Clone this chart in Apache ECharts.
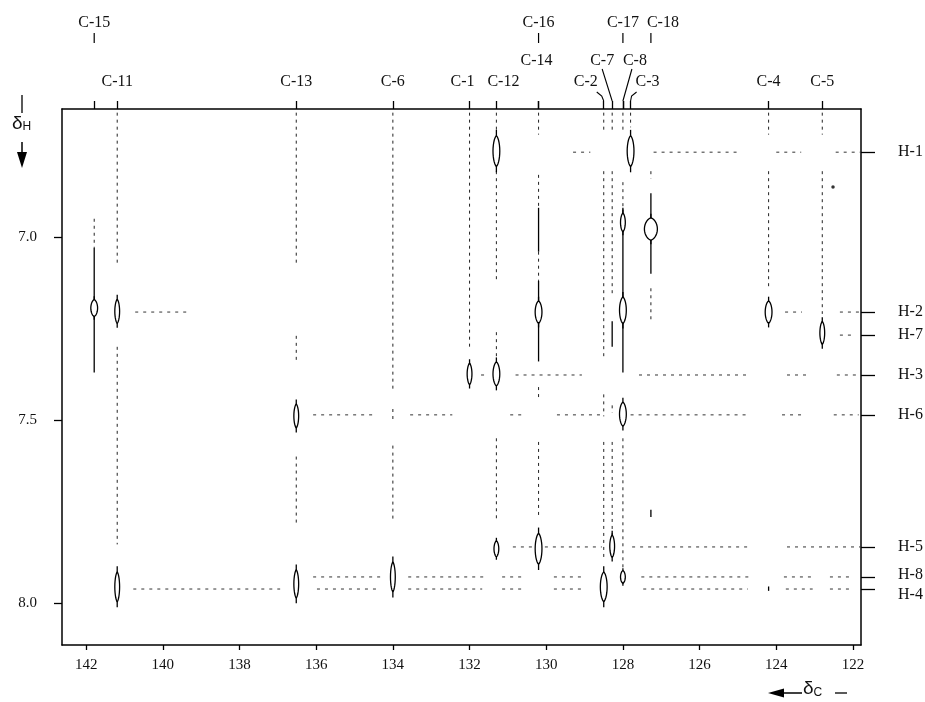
<!DOCTYPE html>
<html>
<head>
<meta charset="utf-8">
<script src="https://cdn.jsdelivr.net/npm/echarts@6/dist/echarts.min.js"></script>
<style>
  html, body { margin: 0; background: #fff; }
  #chart { width: 925px; height: 702px; }
</style>
</head>
<body>
<div id="chart"></div>
<script>
// ---- axis ranges (ppm) ----
const cRange = [121.79, 142.63];
const hRange = [6.65, 8.115];
const cTicks = [122, 124, 126, 128, 130, 132, 134, 136, 138, 140, 142];
const hTicks = [7.0, 7.5, 8.0];

// ---- carbon assignments (top) ----
const carbonNames  = ['C-15', 'C-11', 'C-13', 'C-6', 'C-1', 'C-12', 'C-14', 'C-16', 'C-2', 'C-7', 'C-8', 'C-17', 'C-3', 'C-18', 'C-4', 'C-5'];
const carbonShifts = [141.79, 141.19, 136.52, 134.0, 132.0, 131.3, 130.2, 130.2, 128.5, 128.28, 128.0, 128.0, 127.8, 127.27, 124.2, 122.8];
// carbons that only carry a label (no tick on the frame)
const labelOnly = ['C-18'];

// ---- proton assignments (right) ----
const protonNames  = ['H-1', 'H-2', 'H-7', 'H-3', 'H-6', 'H-5', 'H-8', 'H-4'];
const protonShifts = [6.768, 7.205, 7.268, 7.377, 7.486, 7.847, 7.929, 7.962];

// ---- cross peaks: [δC, δH, half spread in δH, contour level] ----
const peaks = [
  [141.79, 7.194, 0.032, 2],
  [141.19, 7.203, 0.045, 1],
  [141.19, 7.956, 0.056, 1],
  [136.52, 7.489, 0.045, 1],
  [136.52, 7.948, 0.053, 1],
  [134.0, 7.929, 0.056, 1],
  [132.0, 7.374, 0.040, 1],
  [131.3, 6.765, 0.058, 2],
  [131.3, 7.374, 0.045, 2],
  [131.3, 7.852, 0.030, 1],
  [130.2, 7.205, 0.042, 2],
  [130.2, 7.852, 0.058, 2],
  [128.5, 7.956, 0.056, 2],
  [128.28, 7.845, 0.042, 1],
  [128.0, 6.960, 0.035, 1],
  [128.0, 7.200, 0.050, 2],
  [128.0, 7.484, 0.045, 2],
  [128.0, 7.929, 0.024, 1],
  [127.8, 6.765, 0.058, 2],
  [127.27, 6.978, 0.042, 3],
  [124.2, 7.205, 0.042, 2],
  [122.8, 7.262, 0.043, 1]
];

// ---- solid streaks along δH: [δC, from δH, to δH] ----
const streaks = [
  [141.79, 7.03, 7.37],
  [130.2, 6.92, 7.04],
  [130.2, 7.12, 7.34],
  [128.28, 7.23, 7.30],
  [128.0, 6.92, 7.37],
  [127.27, 6.88, 7.10],
  [127.27, 7.745, 7.765],
  [124.2, 7.955, 7.967]
];
const spots = [[122.52, 6.863]];

// ---- dashed guides down from carbons: [δC, from δH, to δH] ----
const vDashes = [
  [141.79, 6.95, 7.03],
  [141.19, 6.66, 7.08], [141.19, 7.30, 7.84],
  [136.52, 6.66, 7.08], [136.52, 7.27, 7.34], [136.52, 7.60, 7.79],
  [134.0, 6.66, 7.42], [134.0, 7.47, 7.50], [134.0, 7.57, 7.78],
  [132.0, 6.66, 7.30],
  [131.3, 6.66, 6.71], [131.3, 6.82, 7.12], [131.3, 7.26, 7.33], [131.3, 7.55, 7.77],
  [130.2, 6.66, 6.72], [130.2, 6.83, 6.92], [130.2, 7.04, 7.12], [130.2, 7.41, 7.44], [130.2, 7.56, 7.76],
  [128.5, 6.66, 6.71], [128.5, 6.82, 7.33], [128.5, 7.43, 7.49], [128.5, 7.56, 7.88],
  [128.28, 6.66, 6.71], [128.28, 6.82, 7.16], [128.28, 7.46, 7.48], [128.28, 7.56, 7.82],
  [128.0, 6.66, 6.71], [128.0, 6.85, 6.92], [128.0, 7.55, 7.92],
  [127.8, 6.66, 6.70],
  [127.27, 6.82, 6.84], [127.27, 7.14, 7.23],
  [124.2, 6.66, 6.72], [124.2, 6.82, 7.14],
  [122.8, 6.66, 6.72], [122.8, 6.82, 7.21]
];

// ---- dashed guides from protons: [δH, from δC, to δC] ----
const hDashes = [
  [6.768, 129.3, 128.85], [6.768, 127.2, 125.0], [6.768, 124.0, 123.35], [6.768, 122.45, 121.79],
  [7.205, 140.72, 139.36], [7.205, 123.77, 123.33], [7.205, 122.34, 121.79],
  [7.268, 122.34, 121.95],
  [7.377, 131.7, 131.55], [7.377, 130.8, 129.07], [7.377, 127.58, 124.74], [7.377, 123.72, 123.12], [7.377, 122.42, 121.79],
  [7.486, 136.08, 134.46], [7.486, 133.55, 132.45], [7.486, 130.94, 130.6], [7.486, 129.72, 128.55],
  [7.486, 127.8, 124.76], [7.486, 123.85, 123.28], [7.486, 122.5, 121.85],
  [7.847, 130.87, 128.55], [7.847, 127.76, 124.7], [7.847, 123.72, 121.79],
  [7.929, 136.08, 134.33], [7.929, 133.6, 131.54], [7.929, 131.15, 130.6], [7.929, 129.8, 129.04],
  [7.929, 127.52, 124.7], [7.929, 123.8, 123.0], [7.929, 122.6, 122.1],
  [7.962, 140.77, 136.94], [7.962, 135.98, 134.33], [7.962, 133.6, 131.67], [7.962, 131.15, 130.6],
  [7.962, 129.8, 128.99], [7.962, 127.47, 124.74], [7.962, 123.75, 123.05], [7.962, 122.6, 122.1]
];

// label placement above the frame (row 0 = highest)
const labelLayout = {
  'C-15': { row: 0 }, 'C-16': { row: 0 }, 'C-17': { row: 0 }, 'C-18': { row: 0, dx: 12 },
  'C-14': { row: 1, dx: -2 }, 'C-7': { row: 1, dx: -10, link: 'slant' }, 'C-8': { row: 1, dx: 12, link: 'slant' },
  'C-2': { row: 2, dx: -18, link: 'hook' }, 'C-3': { row: 2, dx: 17, link: 'hook' },
  'C-1': { row: 2, dx: -7 }, 'C-12': { row: 2, dx: 7 }
};
const rowY = [23, 61, 82];
// small vertical nudges for crowded proton labels
const protonNudge = { 'H-8': -2, 'H-4': 6 };

const serif = 'Liberation Serif';
const ink = '#111';

const chart = echarts.init(document.getElementById('chart'));

function segRenderer(vertical, color, dash) {
  return function (params, api) {
    const a = vertical ? api.coord([api.value(0), api.value(1)]) : api.coord([api.value(1), api.value(0)]);
    const b = vertical ? api.coord([api.value(0), api.value(2)]) : api.coord([api.value(2), api.value(0)]);
    return {
      type: 'line',
      shape: { x1: a[0], y1: a[1], x2: b[0], y2: b[1] },
      style: { stroke: color, lineWidth: dash ? 1 : 1.3, lineDash: dash || null }
    };
  };
}

function renderPeak(params, api) {
  const c = api.coord([api.value(0), api.value(1)]);
  const t = api.coord([api.value(0), api.value(1) - api.value(2)]);
  const hs = Math.abs(c[1] - t[1]);
  const w = [0, 2.4, 3.4, 6.5][api.value(3)];
  const lh = hs * 0.72;
  const pts = [];
  for (let i = 0; i <= 32; i++) {
    const a = Math.PI * 2 * i / 32;
    const s = Math.sin(a);
    pts.push([c[0] + w * Math.sign(s) * Math.pow(Math.abs(s), 1.3), c[1] - lh * Math.cos(a)]);
  }
  return {
    type: 'group',
    children: [
      { type: 'line', shape: { x1: c[0], y1: c[1] - hs, x2: c[0], y2: c[1] + hs }, style: { stroke: '#000', lineWidth: 1.3 } },
      { type: 'polygon', shape: { points: pts }, style: { fill: '#fff', stroke: '#000', lineWidth: 1.3 } }
    ]
  };
}

const frameLine = { show: true, onZero: false, lineStyle: { color: '#000', width: 1.5 } };
const tickText = { color: ink, fontFamily: serif, fontSize: 15 };

const option = {
  animation: false,
  backgroundColor: '#fff',
  grid: { left: 62, right: 64, top: 109, bottom: 57 },
  xAxis: [
    {
      type: 'value', position: 'bottom', inverse: true, min: cRange[0], max: cRange[1],
      axisLine: frameLine,
      axisTick: { customValues: cTicks, length: 5, lineStyle: { color: '#000', width: 1.3 } },
      axisLabel: Object.assign({ customValues: cTicks, margin: 13 }, tickText),
      splitLine: { show: false }
    },
    {
      type: 'value', position: 'top', inverse: true, min: cRange[0], max: cRange[1],
      axisLine: frameLine,
      axisTick: {
        customValues: carbonShifts.filter((v, i) => !labelOnly.includes(carbonNames[i])),
        length: 8, lineStyle: { color: '#000', width: 1.3 }
      },
      axisLabel: { show: false },
      splitLine: { show: false }
    }
  ],
  yAxis: [
    {
      type: 'value', position: 'left', inverse: true, min: hRange[0], max: hRange[1],
      axisLine: frameLine,
      axisTick: { customValues: hTicks, length: 8, lineStyle: { color: '#000', width: 1.3 } },
      axisLabel: Object.assign({ customValues: hTicks, margin: 25, formatter: v => v.toFixed(1) }, tickText),
      splitLine: { show: false }
    },
    {
      type: 'value', position: 'right', inverse: true, min: hRange[0], max: hRange[1],
      axisLine: frameLine,
      axisTick: { customValues: protonShifts, length: 14, lineStyle: { color: '#000', width: 1.3 } },
      axisLabel: { show: false },
      splitLine: { show: false }
    }
  ],
  series: [
    { type: 'custom', name: 'hguides', data: hDashes, renderItem: segRenderer(false, '#333', [3, 5]), encode: { x: 1, y: 0 }, z: 1 },
    { type: 'custom', name: 'vguides', data: vDashes, renderItem: segRenderer(true, '#222', [3, 4]), encode: { x: 0, y: 1 }, z: 1 },
    { type: 'custom', name: 'streaks', data: streaks, renderItem: segRenderer(true, '#000', null), encode: { x: 0, y: 1 }, z: 2 },
    { type: 'scatter', name: 'spots', data: spots, symbol: 'circle', symbolSize: 3.5, itemStyle: { color: '#000' }, z: 2 },
    { type: 'custom', name: 'peaks', data: peaks, renderItem: renderPeak, encode: { x: 0, y: 1 }, z: 3 }
  ]
};

chart.setOption(option);

const graphics = [];
const toPx = (c, h) => chart.convertToPixel({ gridIndex: 0 }, [c, h]);
const frameTop = toPx(cRange[1], hRange[0])[1];
const frameRight = toPx(cRange[0], hRange[0])[0];

// ---- carbon labels above the frame ----
carbonNames.forEach((name, i) => {
  const lay = labelLayout[name] || { row: 2 };
  const x = toPx(carbonShifts[i], hRange[0])[0];
  const lx = x + (lay.dx || 0);
  const ly = rowY[lay.row];
  graphics.push({
    type: 'text', x: lx, y: ly,
    style: { text: name, fill: ink, font: '16px "' + serif + '"', align: 'center', verticalAlign: 'middle' }
  });
  if (lay.row === 0) {
    graphics.push({ type: 'line', shape: { x1: x, y1: ly + 10, x2: x, y2: ly + 20 }, style: { stroke: '#000', lineWidth: 1.2 } });
  }
  if (lay.link === 'slant') {
    graphics.push({
      type: 'line',
      shape: { x1: lx + (lay.dx < 0 ? 0 : -3), y1: ly + 8, x2: x, y2: frameTop - 8 },
      style: { stroke: '#000', lineWidth: 1.1 }
    });
  }
  if (lay.link === 'hook') {
    const sx = lay.dx < 0 ? lx + 11 : lx - 11;
    const mx = lay.dx < 0 ? x - 2 : x + 1;
    graphics.push({
      type: 'polyline',
      shape: { points: [[sx, ly + 10], [mx, ly + 14], [x, ly + 19]] },
      style: { stroke: '#000', lineWidth: 1.1, fill: null }
    });
  }
});

// ---- proton labels right of the frame ----
protonNames.forEach((name, i) => {
  const y = toPx(cRange[0], protonShifts[i])[1] + (protonNudge[name] || 0);
  graphics.push({
    type: 'text', x: frameRight + 37, y: y,
    style: { text: name, fill: ink, font: '16px "' + serif + '"', align: 'left', verticalAlign: 'middle' }
  });
});

// δH axis name with downward arrow
graphics.push(
  { type: 'line', shape: { x1: 22, y1: 95, x2: 22, y2: 113 }, style: { stroke: '#000', lineWidth: 1.3 } },
  {
    type: 'text', x: 12, y: 133,
    style: {
      text: '{d|δ}{s|H}', verticalAlign: 'bottom',
      rich: { d: { font: '19px "Liberation Sans"', fill: ink }, s: { font: '12px "Liberation Sans"', fill: ink, padding: [6, 0, 0, 0] } }
    }
  },
  { type: 'line', shape: { x1: 22, y1: 142, x2: 22, y2: 156 }, style: { stroke: '#000', lineWidth: 1.5 } },
  { type: 'polygon', shape: { points: [[17, 152], [27, 152], [22, 168]] }, style: { fill: '#000' } }
);

// δC axis name with leftward arrow
graphics.push(
  { type: 'polygon', shape: { points: [[768, 693], [784, 688.5], [784, 697.5]] }, style: { fill: '#000' } },
  { type: 'line', shape: { x1: 782, y1: 693, x2: 802, y2: 693 }, style: { stroke: '#000', lineWidth: 1.5 } },
  {
    type: 'text', x: 803, y: 699,
    style: {
      text: '{d|δ}{s|C}', verticalAlign: 'bottom',
      rich: { d: { font: '19px "Liberation Sans"', fill: ink }, s: { font: '12px "Liberation Sans"', fill: ink, padding: [8, 0, 0, 0] } }
    }
  },
  { type: 'line', shape: { x1: 835, y1: 693, x2: 847, y2: 693 }, style: { stroke: '#000', lineWidth: 1.3 } }
);

chart.setOption({ graphic: graphics });
</script>
</body>
</html>
